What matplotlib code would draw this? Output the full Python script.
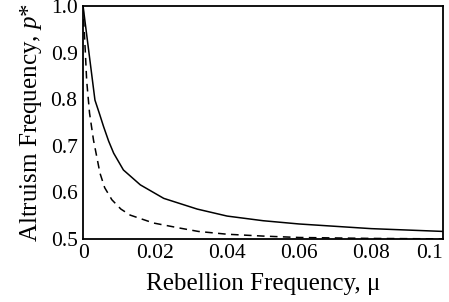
import matplotlib
matplotlib.use("Agg")
import matplotlib.pyplot as plt

# values
mu_solid = [0, 0.0033, 0.0045, 0.0057, 0.0071, 0.0085, 0.0112, 0.0159, 0.0224, 0.0317,
            0.04, 0.05, 0.06, 0.07, 0.08, 0.09, 0.1]
p_solid = [1.0, 0.798, 0.77, 0.741, 0.71, 0.684, 0.648, 0.616, 0.587, 0.564,
           0.549, 0.539, 0.532, 0.527, 0.522, 0.519, 0.516]

mu_dashed = [0, 0.0003, 0.0006, 0.001, 0.0018, 0.0029, 0.0047, 0.006, 0.008, 0.0105,
             0.0131, 0.0196, 0.027, 0.032, 0.04, 0.05, 0.06, 0.07, 0.08, 0.1]
p_dashed = [1.0, 0.95, 0.906, 0.84, 0.77, 0.712, 0.641, 0.61, 0.584, 0.564,
            0.551, 0.534, 0.523, 0.516, 0.510, 0.506, 0.503, 0.502, 0.501, 0.5]

xticks = [0, 0.02, 0.04, 0.06, 0.08, 0.1]
xtick_labels = ["0", "0.02", "0.04", "0.06", "0.08", "0.1"]
yticks = [0.5, 0.6, 0.7, 0.8, 0.9, 1.0]
ytick_labels = ["0.5", "0.6", "0.7", "0.8", "0.9", "1.0"]

plt.rcParams['font.family'] = ['Liberation Serif', 'DejaVu Serif']
plt.rcParams['mathtext.fontset'] = 'custom'
plt.rcParams['mathtext.rm'] = 'Liberation Serif'
plt.rcParams['mathtext.it'] = 'Liberation Serif:italic'

fig = plt.figure(figsize=(4.49, 3.02), dpi=100)
ax = fig.add_axes([0.185, 0.209, 0.802, 0.771])

ax.plot(mu_solid, p_solid, color='black', lw=1.1)
ax.plot(mu_dashed, p_dashed, color='black', lw=1.1, dashes=(5, 3.5))

ax.set_xlim(0, 0.1)
ax.set_ylim(0.5, 1.0)
ax.set_xticks(xticks)
ax.set_xticklabels(xtick_labels)
ax.set_yticks(yticks)
ax.set_yticklabels(ytick_labels, va='center_baseline')
ax.tick_params(length=0, labelsize=15.5, pad=4)
ax.get_xticklabels()[-1].set_horizontalalignment('right')

for s in ax.spines.values():
    s.set_linewidth(1.3)

ax.set_xlabel("Rebellion Frequency, μ", fontsize=18, labelpad=7)
ax.set_ylabel("Altruism Frequency, $p$*", fontsize=18, labelpad=5)

fig.savefig("out.png", dpi=100)
